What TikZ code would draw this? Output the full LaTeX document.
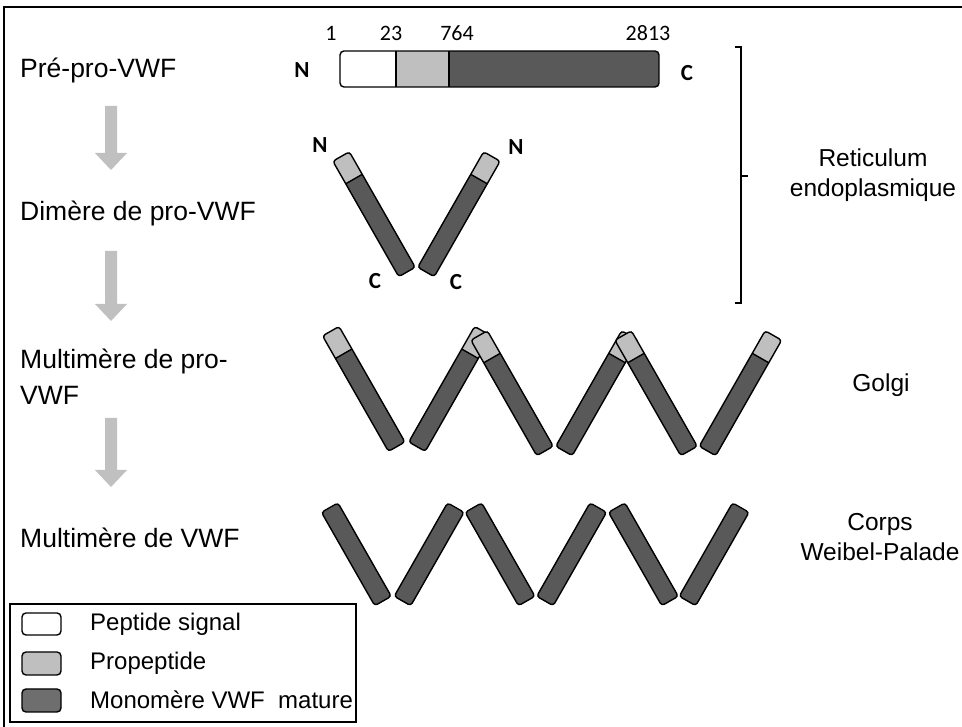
\documentclass[tikz,border=0pt]{standalone}
\usepackage{fontspec}
\setmainfont{Liberation Sans}
\newfontfamily\calfont{Carlito}
\definecolor{lightg}{HTML}{BFBFBF}
\definecolor{darkg}{HTML}{595959}
\definecolor{legdark}{HTML}{6E6E6E}
\definecolor{arrowg}{HTML}{C0C0C0}
\tikzset{
  barline/.style={draw=black, line width=1.4pt},
  lbl/.style={inner sep=0pt, anchor=west, font=\fontsize{26.5}{30}\selectfont},
  rlbl/.style={inner sep=0pt, align=center, font=\fontsize{24.5}{30}\selectfont},
  numlbl/.style={inner sep=0pt, font=\calfont\fontsize{22}{26}\selectfont},
  endlbl/.style={inner sep=0pt, font=\calfont\bfseries\fontsize{23}{26}\selectfont},
  leglbl/.style={inner sep=0pt, anchor=west, font=\fontsize{24}{28}\selectfont},
  swatch/.style={draw=black, line width=1.4pt, rounded corners=4pt},
  grayarrow/.style={fill=arrowg, draw=none},
}
% bottom-centre x, y, angle, total length
\newcommand{\vwfbar}[4]{%
\begin{scope}[shift={(#1,#2)},rotate=#3]
 \begin{scope}
  \clip[rounded corners=3pt] (0,-9.5) rectangle (#4,9.5);
  \fill[darkg] (0,-9.5) rectangle (107,9.5);
  \fill[lightg] (107,-9.5) rectangle (#4,9.5);
 \end{scope}
 \draw[barline, rounded corners=3pt] (0,-9.5) rectangle (#4,9.5);
 \ifdim #4pt>108pt \draw[barline] (107,-9.5) -- (107,9.5);\fi
\end{scope}}
\newcommand{\grayarr}[2]{% top y, tip y
 \fill[grayarrow] (105,#1) -- (117,#1) -- ({117},{#2+17}) -- (127,{#2+17}) -- (111,#2) -- (95,{#2+17}) -- (105,{#2+17}) -- cycle;}
\begin{document}
\begin{tikzpicture}[x=1pt,y=1pt]
\useasboundingbox (0,0) rectangle (962,727);
\fill[white] (0,0) rectangle (962,727);
% outer frame
\draw[line width=2pt] (4,0) -- (4,720) -- (962,720);

% left labels
\node[lbl] (l1) at (20,656) {Pré-pro-VWF};
\node[lbl] (l2) at (20,513) {Dimère de pro-VWF};
\node[lbl] (l3a) at (20,365) {Multimère de pro-};
\node[lbl] (l3b) at (20,332) {VWF};
\node[lbl] (l4) at (20,189) {Multimère de VWF};

% gray arrows
\grayarr{621}{557}
\grayarr{476}{406}
\grayarr{309}{240}

% pre-pro-VWF bar
\begin{scope}
 \clip[rounded corners=4pt] (340,640) rectangle (659,676);
 \fill[white] (340,640) rectangle (396,676);
 \fill[lightg] (396,640) rectangle (449,676);
 \fill[darkg] (449,640) rectangle (659,676);
\end{scope}
\draw[barline, rounded corners=4pt] (340,640) rectangle (659,676);
\draw[barline] (396,640) -- (396,676);
\draw[barline] (449,640) -- (449,676);
\node[numlbl] (n1) at (331,694) {1};
\node[numlbl] (n23) at (391,694) {23};
\node[numlbl] (n764) at (457,694) {764};
\node[numlbl] (n2813) at (648,694) {2813};
\node[endlbl] (bN) at (302,657) {N};
\node[endlbl] (bC) at (687,654) {C};

% bracket
\draw[line width=1.4pt] (735,680) -- (741,680) -- (741,424) -- (735,424);
\draw[line width=1.4pt] (741,551) -- (748,551);
\node[rlbl] (re) at (873,552) {Reticulum\\endoplasmique};

% dimer
\vwfbar{407}{455}{119.7}{133}
\vwfbar{426}{455}{60.3}{133}
\node[endlbl] (dN1) at (320,582) {N};
\node[endlbl] (dN2) at (516,580) {N};
\node[endlbl] (dC1) at (375,446) {C};
\node[endlbl] (dC2) at (456,445) {C};

% Golgi multimer
\vwfbar{396.7}{280.3}{119.7}{133}
\vwfbar{417}{280.3}{60.3}{133}
\vwfbar{545}{276}{119.7}{133}
\vwfbar{564}{276}{60.3}{133}
\vwfbar{689}{276}{119.7}{133}
\vwfbar{707.5}{276}{60.3}{133}
\node[rlbl] (go) at (881,342) {Golgi};

% mature multimer
\vwfbar{383}{126}{119.7}{107.5}
\vwfbar{402.5}{126}{60.3}{107.5}
\vwfbar{526.7}{126}{119.7}{107.5}
\vwfbar{545}{126}{60.3}{107.5}
\vwfbar{670}{126}{119.7}{107.5}
\vwfbar{687.5}{126}{60.3}{107.5}
\node[rlbl] (wp) at (880,190) {Corps\\Weibel-Palade};

% legend
\draw[line width=1.4pt] (10,5) rectangle (356,123);
\draw[swatch, fill=white] (22,92) rectangle (61,114);
\draw[swatch, fill=lightg] (22,52) rectangle (61,75);
\draw[swatch, fill=legdark] (22,15) rectangle (61,38);
\node[leglbl] (t1) at (90,103) {Peptide signal};
\node[leglbl] (t2) at (90,64) {Propeptide};
\node[leglbl] (t3) at (90,27) {Monomère VWF\ \ mature};
\end{tikzpicture}
\end{document}
